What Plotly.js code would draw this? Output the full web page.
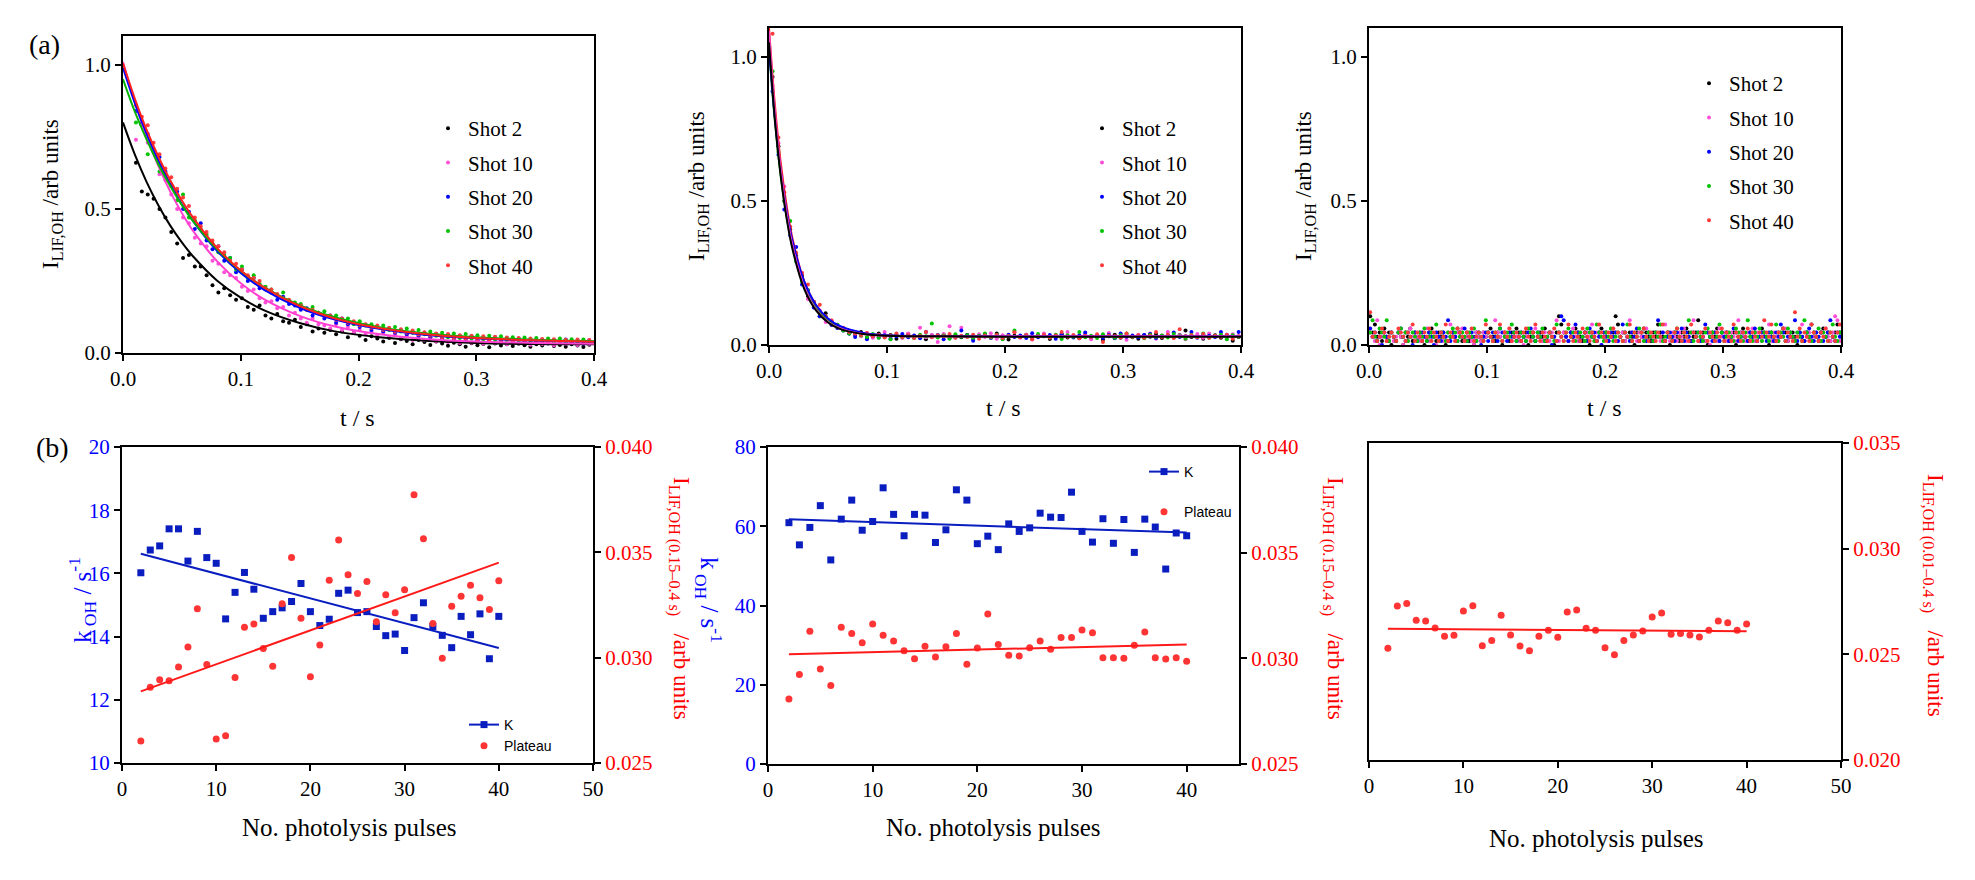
<!DOCTYPE html>
<html>
<head>
<meta charset="utf-8">
<script src="https://cdn.plot.ly/plotly-3.0.1.min.js"></script>
<style>
  body { margin: 0; background: #fff; }
  #fig { width: 1975px; height: 880px; }
</style>
</head>
<body>
<div id="fig"></div>
<script>
// ---------------- data ----------------

const shotNames = ["Shot 2", "Shot 10", "Shot 20", "Shot 30", "Shot 40"];

// (a) left: OH LIF decays, sampled every 0.005 s starting at 0.011 s
const leftT0 = 0.011, leftDt = 0.005;
const leftShot2 = [0.66,0.56,0.55,0.535,0.50,0.47,0.42,0.38,0.33,0.34,
  0.30,0.30,0.27,0.235,0.21,0.225,0.20,0.185,0.19,0.16,
  0.15,0.165,0.13,0.12,0.135,0.11,0.105,0.115,0.09,0.10,
  0.075,0.085,0.07,0.08,0.065,0.075,0.055,0.07,0.06,0.045,
  0.058,0.05,0.04,0.052,0.035,0.048,0.042,0.03,0.045,0.038,
  0.028,0.04,0.033,0.025,0.036,0.03,0.022,0.034,0.027,0.031,
  0.02,0.033,0.026,0.03,0.024,0.032,0.027,0.022,0.03,0.026,
  0.034,0.024,0.028,0.022,0.03,0.026,0.021,0.029];
const leftShot10 = [0.74,0.79,0.73,0.70,0.62,0.60,0.55,0.50,0.47,0.45,
  0.40,0.38,0.37,0.32,0.31,0.28,0.27,0.26,0.23,0.215,
  0.22,0.19,0.175,0.18,0.155,0.16,0.13,0.14,0.12,0.105,
  0.12,0.10,0.095,0.085,0.10,0.08,0.09,0.07,0.08,0.065,
  0.075,0.06,0.07,0.055,0.065,0.05,0.06,0.045,0.058,0.044,
  0.052,0.04,0.05,0.038,0.047,0.035,0.046,0.036,0.043,0.032,
  0.044,0.035,0.04,0.03,0.042,0.033,0.038,0.029,0.04,0.031,
  0.037,0.027,0.039,0.032,0.036,0.028,0.038,0.031];
const leftShot20 = [0.84,0.80,0.76,0.70,0.68,0.63,0.58,0.56,0.50,0.49,
  0.43,0.45,0.39,0.36,0.37,0.32,0.33,0.28,0.29,0.25,
  0.26,0.225,0.22,0.21,0.185,0.195,0.17,0.165,0.15,0.155,
  0.13,0.14,0.12,0.13,0.105,0.12,0.10,0.105,0.09,0.098,
  0.08,0.09,0.075,0.085,0.07,0.08,0.065,0.072,0.06,0.07,
  0.055,0.066,0.05,0.063,0.05,0.06,0.045,0.058,0.044,0.054,
  0.042,0.055,0.04,0.052,0.038,0.05,0.036,0.048,0.037,0.046,
  0.033,0.045,0.035,0.047,0.034,0.043,0.032,0.044];
const leftShot30 = [0.80,0.79,0.69,0.70,0.63,0.62,0.58,0.53,0.55,0.47,
  0.46,0.43,0.41,0.38,0.35,0.34,0.33,0.29,0.30,0.26,
  0.27,0.24,0.23,0.22,0.20,0.21,0.18,0.175,0.17,0.15,
  0.16,0.14,0.145,0.125,0.13,0.115,0.12,0.10,0.11,0.095,
  0.10,0.09,0.095,0.08,0.09,0.075,0.085,0.07,0.08,0.065,
  0.075,0.06,0.07,0.055,0.068,0.052,0.066,0.05,0.062,0.048,
  0.06,0.046,0.058,0.045,0.055,0.042,0.054,0.04,0.052,0.038,
  0.05,0.037,0.05,0.036,0.048,0.035,0.047,0.036];
const leftShot40 = [0.86,0.82,0.79,0.73,0.69,0.64,0.61,0.57,0.54,0.51,
  0.47,0.44,0.42,0.39,0.37,0.35,0.32,0.31,0.29,0.27,
  0.26,0.25,0.225,0.22,0.205,0.19,0.185,0.17,0.165,0.15,
  0.15,0.14,0.13,0.13,0.115,0.12,0.105,0.11,0.095,0.10,
  0.088,0.095,0.08,0.088,0.074,0.082,0.07,0.078,0.064,0.072,
  0.06,0.068,0.055,0.066,0.052,0.062,0.05,0.06,0.047,0.058,
  0.045,0.056,0.043,0.054,0.042,0.052,0.04,0.05,0.039,0.049,
  0.036,0.048,0.037,0.046,0.035,0.047,0.034,0.045];

// fitted curves, read at these times
const leftFitT = [0,0.01,0.02,0.03,0.04,0.05,0.06,0.08,0.10,0.12,0.15,0.18,0.22,0.26,0.30,0.35,0.40];
const leftFit2  = [0.800,0.689,0.594,0.513,0.443,0.384,0.333,0.251,0.192,0.148,0.104,0.075,0.054,0.042,0.035,0.031,0.030];
const leftFit10 = [1.010,0.871,0.751,0.649,0.561,0.486,0.421,0.318,0.242,0.186,0.129,0.092,0.064,0.048,0.040,0.035,0.032];
const leftFit20 = [0.990,0.868,0.761,0.668,0.587,0.516,0.455,0.354,0.278,0.219,0.157,0.116,0.082,0.062,0.051,0.043,0.039];
const leftFit30 = [0.950,0.838,0.741,0.655,0.580,0.513,0.455,0.359,0.285,0.228,0.166,0.124,0.088,0.067,0.055,0.046,0.041];
const leftFit40 = [1.005,0.883,0.775,0.682,0.600,0.529,0.467,0.364,0.286,0.227,0.163,0.120,0.085,0.064,0.052,0.044,0.039];

// (a) middle: sampled every 0.005 s starting at 0.003 s
const midT0 = 0.003, midDt = 0.005;
const midShot2 = [0.93,0.69,0.50,0.40,0.31,0.24,0.17,0.15,0.10,0.11,
  0.07,0.06,0.055,0.04,0.035,0.045,0.025,0.03,0.04,0.028,
  0.035,0.022,0.03,0.038,0.026,0.032,0.02,0.034,0.029,0.036,
  0.024,0.031,0.027,0.035,0.022,0.03,0.033,0.025,0.04,0.028,
  0.019,0.032,0.027,0.036,0.024,0.03,0.034,0.021,0.029,0.037,
  0.026,0.031,0.023,0.035,0.028,0.032,0.018,0.03,0.036,0.025,
  0.033,0.027,0.022,0.034,0.029,0.038,0.024,0.031,0.026,0.035,
  0.05,0.028,0.032,0.022,0.03,0.034,0.025,0.031,0.015,0.028];
const midShot10 = [0.90,0.70,0.55,0.39,0.30,0.25,0.16,0.13,0.12,0.08,
  0.085,0.07,0.05,0.045,0.038,0.03,0.042,0.025,0.033,0.045,
  0.028,0.036,0.024,0.04,0.03,0.06,0.027,0.035,0.01,0.038,
  0.065,0.029,0.06,0.033,0.024,0.037,0.028,0.041,0.022,0.034,
  0.03,0.045,0.025,0.036,0.019,0.032,0.04,0.027,0.035,0.023,
  0.045,0.03,0.026,0.038,0.02,0.033,0.029,0.042,0.024,0.035,
  0.018,0.031,0.036,0.027,0.04,0.022,0.033,0.045,0.026,0.034,
  0.02,0.03,0.038,0.025,0.04,0.028,0.035,0.021,0.037,0.03];
const midShot20 = [0.88,0.66,0.47,0.38,0.34,0.21,0.19,0.13,0.10,0.095,
  0.07,0.06,0.05,0.04,0.028,0.035,0.02,0.03,0.026,0.034,
  0.022,0.03,0.038,0.027,0.033,0.023,0.045,0.029,0.035,0.02,
  0.031,0.026,0.05,0.034,0.015,0.03,0.037,0.025,0.032,0.022,
  0.036,0.028,0.033,0.024,0.041,0.027,0.03,0.035,0.022,0.038,
  0.03,0.026,0.034,0.043,0.028,0.032,0.025,0.036,0.023,0.04,
  0.029,0.033,0.027,0.035,0.038,0.024,0.031,0.034,0.043,0.028,
  0.03,0.045,0.025,0.037,0.032,0.028,0.045,0.036,0.03,0.045];
const midShot30 = [0.95,0.67,0.50,0.43,0.29,0.22,0.19,0.14,0.11,0.10,
  0.08,0.07,0.05,0.04,0.045,0.033,0.028,0.038,0.025,0.031,
  0.02,0.035,0.027,0.032,0.024,0.036,0.03,0.075,0.026,0.033,
  0.022,0.037,0.029,0.034,0.025,0.031,0.04,0.027,0.035,0.02,
  0.03,0.05,0.028,0.033,0.024,0.038,0.03,0.026,0.036,0.021,
  0.034,0.029,0.045,0.027,0.032,0.024,0.037,0.03,0.025,0.034,
  0.04,0.028,0.031,0.023,0.036,0.029,0.033,0.026,0.038,0.03,
  0.022,0.035,0.028,0.04,0.025,0.032,0.036,0.02,0.034,0.029];
const midShot40 = [1.08,0.72,0.53,0.41,0.32,0.25,0.21,0.15,0.14,0.10,
  0.085,0.065,0.06,0.045,0.04,0.035,0.042,0.03,0.036,0.026,
  0.033,0.04,0.028,0.035,0.024,0.031,0.045,0.027,0.034,0.03,
  0.038,0.025,0.032,0.028,0.036,0.022,0.033,0.029,0.035,0.024,
  0.031,0.044,0.027,0.034,0.02,0.03,0.036,0.026,0.033,0.045,
  0.029,0.035,0.023,0.031,0.028,0.037,0.01,0.033,0.03,0.026,
  0.04,0.029,0.034,0.025,0.032,0.045,0.028,0.036,0.024,0.055,
  0.03,0.034,0.027,0.038,0.025,0.032,0.029,0.036,0.022,0.03];

const midFitT = [0,0.005,0.01,0.015,0.02,0.03,0.04,0.05,0.06,0.08,0.10,0.15,0.20,0.30,0.40];
const midFit2  = [1.05,0.782,0.584,0.438,0.331,0.193,0.119,0.078,0.056,0.038,0.032,0.030,0.029,0.029,0.029];
const midFit10 = [1.09,0.811,0.606,0.454,0.343,0.200,0.122,0.080,0.058,0.038,0.032,0.030,0.030,0.030,0.030];
const midFit20 = [1.03,0.787,0.603,0.464,0.359,0.219,0.138,0.092,0.066,0.042,0.034,0.031,0.031,0.031,0.031];
const midFit30 = [1.03,0.776,0.586,0.445,0.339,0.202,0.126,0.083,0.060,0.039,0.033,0.030,0.030,0.030,0.030];
const midFit40 = [1.10,0.833,0.631,0.482,0.368,0.220,0.137,0.090,0.064,0.041,0.033,0.030,0.030,0.030,0.030];

// (a) right: digitised baseline only, sampled every 0.002 s starting at 0.001 s
const rightT0 = 0.001, rightDt = 0.002;
const rightShot2 = [.1,.043,.071,.029,.043,.014,.057,.029,.043,0,
  .029,.014,.043,.029,0,.043,.029,.057,.014,.043,
  .029,.043,.014,0,.029,.043,.057,.029,.014,.043,
  .029,.043,0,.014,.029,.043,.029,.057,.043,.014,
  .029,.043,.014,.029,0,.043,.029,.014,.043,.029,
  .043,.057,.029,.014,.043,.029,0,.043,.029,.014,
  .043,.029,.057,.043,.014,.029,.043,0,.029,.043,
  .014,.029,.043,.029,.057,.014,.043,.029,0,.043,
  .1,.071,.043,.029,.014,.043,.029,.057,.043,.029,
  .014,.043,.029,0,.043,.029,.014,.043,.057,.029,
  .043,.014,.029,.043,.1,.071,.029,.043,.014,.029,
  .043,.029,0,.043,.014,.029,.057,.043,.029,.014,
  .043,.029,.071,.043,.029,.014,.043,0,.029,.043,
  .029,.014,.043,.029,.057,.043,.014,.029,.043,.086,
  .029,.043,.014,0,.029,.043,.029,.057,.014,.043,
  .029,.043,.014,.029,.043,0,.029,.043,.057,.029,
  .014,.043,.029,.043,.014,.029,.057,.043,.029,0,
  .043,.029,.014,.043,.029,.057,.043,.014,.029,.043,
  .029,0,.043,.029,.014,.043,.029,.071,.043,.029,
  .014,.043,.057,.029,.043,.014,.029,.043,.071,.043];
const rightShot10 = [.043,.029,.014,.086,0,.029,.043,.014,.029,.043,
  .014,.029,.043,.029,0,.043,.014,.057,.029,.043,
  .029,.014,.043,.029,.057,.014,.043,.029,0,.029,
  .043,.014,.029,.043,.071,.029,.014,.043,.029,.057,
  .014,.029,.043,.014,0,.043,.029,.014,.043,.029,
  .043,.029,.014,.086,.043,.029,.014,.043,.029,.057,
  .014,.043,.029,.014,.043,0,.029,.043,.014,.029,
  .057,.043,.029,.014,.043,.029,.014,.043,.029,.086,
  .014,.029,.043,.029,.014,.043,.057,.029,.014,.043,
  .029,.014,.043,.029,.071,.014,.043,.029,0,.029,
  .043,.014,.029,.057,.043,.014,.029,.043,.014,.029,
  .086,.043,.029,.014,.043,.029,.014,.057,.043,.029,
  .014,.043,.029,.014,.043,.071,.029,.014,.043,.029,
  .014,.043,.029,.057,.014,.029,.043,.086,.029,.014,
  .043,.029,.014,.043,0,.029,.043,.014,.057,.029,
  .043,.014,.029,.043,.029,.014,.086,.043,.029,.014,
  .043,.029,.057,.014,.043,.029,.014,.043,.029,.071,
  .014,.043,.029,.014,.043,.029,.057,.014,.043,.029,
  .014,.043,.029,.071,.014,.029,.043,.014,.029,.043,
  .029,.014,.043,.057,.029,.014,.043,.1,.086,.014];
const rightShot20 = [.057,.029,.043,.014,.029,0,.043,.029,.014,.043,
  .029,.014,.043,.057,.029,.014,.043,.029,0,.043,
  .014,.029,.043,.029,.014,.043,.029,0,.043,.029,
  .014,.043,.029,.086,.014,.043,.029,.014,.043,.029,
  .057,.014,.029,.043,.029,.014,.043,0,.029,.043,
  .014,.029,.043,.029,.014,.057,.043,.029,.014,.043,
  .029,.043,.014,.029,.043,.029,.014,.043,.057,.029,
  .014,.043,.029,.043,.014,.029,.043,0,.029,.014,
  .043,.1,.086,.029,.014,.043,.029,.071,.043,.014,
  .029,.043,.014,.057,.029,.043,.014,.029,0,.043,
  .029,.014,.043,.029,.043,.014,.029,.071,.043,.029,
  .014,.043,.029,.057,.014,.043,.029,.014,.043,.029,
  .014,.043,.086,.029,.043,.014,.029,.043,.029,.014,
  .043,.029,.057,.014,.043,.029,.014,.043,.029,.043,
  .014,.029,.071,.043,.029,.014,.043,.029,.014,.043,
  .029,.043,.014,.029,.057,.043,.014,.029,.043,.029,
  .014,.043,.029,.057,.014,.029,.043,.029,.014,.043,
  .029,.014,.043,.029,.071,.043,.014,.029,.043,.029,
  .086,.014,.043,.029,.014,.043,.057,.029,.014,.043,
  .029,.043,.014,.029,.043,.086,.029,.014,.043,.029];
const rightShot30 = [.043,.086,.029,.014,.057,.043,.029,.086,.014,.043,
  .029,.014,.043,.057,.029,.043,.014,.029,.043,.029,
  .014,.043,.029,.057,.014,.029,.043,.029,.071,.014,
  .043,.029,.014,.043,.029,.057,.043,.014,.029,.043,
  .029,.014,.043,.029,.057,.014,.043,.029,.014,.086,
  .043,.029,.014,.043,.029,.057,.014,.029,.043,.029,
  .071,.043,.014,.029,.043,.029,.014,.057,.043,.029,
  .014,.043,.029,.057,.014,.029,.043,.029,.014,.071,
  .043,.029,.014,.043,.057,.029,.043,.014,.029,.043,
  .029,.014,.057,.043,.029,.014,.071,.043,.029,.014,
  .043,.029,.057,.014,.029,.043,.029,.014,.043,.071,
  .029,.014,.043,.029,.057,.043,.014,.029,.043,.029,
  .014,.043,.029,.071,.014,.029,.043,.029,.014,.043,
  .057,.029,.014,.043,.029,.086,.043,.014,.029,.043,
  .029,.014,.043,.057,.029,.043,.014,.029,.071,.043,
  .014,.029,.043,.029,.014,.057,.043,.029,.014,.043,
  .086,.029,.014,.043,.029,.057,.014,.043,.029,.014,
  .043,.029,.071,.014,.043,.029,.014,.057,.043,.029,
  .014,.043,.029,.014,.086,.043,.029,.014,.043,.029,
  .057,.014,.043,.029,.014,.043,.071,.029,.014,.043];
const rightShot40 = [.114,.029,.043,.014,.029,.057,.043,.014,.029,.043,
  .029,.014,.057,.043,.029,.014,.043,.029,.071,.014,
  .043,.029,.014,.043,.029,.057,.014,.043,.029,.014,
  .043,.029,.071,.014,.043,.029,.014,.057,.043,.029,
  .014,.043,.029,.057,.014,.029,.043,.029,.014,.071,
  .043,.029,.014,.043,.029,.071,.014,.043,.029,.057,
  .014,.029,.043,.029,.014,.043,.057,.029,.014,.043,
  .071,.029,.014,.043,.029,.014,.043,.029,.057,.014,
  .043,.029,.014,.043,.071,.029,.014,.043,.029,.014,
  .057,.043,.029,.014,.043,.029,.014,.071,.043,.029,
  .014,.043,.029,.057,.014,.043,.029,.014,.043,.029,
  .071,.014,.043,.029,.014,.043,.057,.029,.014,.043,
  .029,.014,.043,.029,.071,.014,.043,.029,.014,.043,
  .057,.029,.014,.043,.029,.014,.071,.043,.029,.014,
  .043,.029,.057,.014,.043,.029,.014,.043,.029,.057,
  .014,.043,.029,.014,.071,.043,.029,.014,.043,.029,
  .057,.014,.043,.029,.014,.043,.029,.086,.043,.029,
  .071,.029,.014,.043,.029,.057,.014,.043,.029,.014,
  .114,.029,.057,.014,.043,.029,.014,.071,.043,.029,
  .014,.043,.029,.057,.014,.043,.029,.014,.043,.071];

// (b) fitted rate constants and plateaus versus shot number
const pulses = [2,3,4,5,6,7,8,9,10,11,12,13,14,15,16,17,18,19,20,21,
  22,23,24,25,26,27,28,29,30,31,32,33,34,35,36,37,38,39,40];
const pulsesFit = [2, 40];

const kLeft = [16.02,16.74,16.87,17.41,17.41,16.39,17.33,16.50,16.32,14.56,
  15.40,16.03,15.50,14.58,14.79,14.91,15.11,15.68,14.79,14.35,
  14.55,15.37,15.47,14.76,14.79,14.32,14.03,14.08,13.56,14.60,
  15.07,14.32,14.04,13.65,14.64,14.06,14.72,13.30,14.64];
const plateauLeft = [0.02605,0.02859,0.02895,0.02890,0.02956,0.03051,0.03232,0.02967,0.02614,0.02629,
  0.02906,0.03144,0.03160,0.03044,0.02959,0.03256,0.03475,0.03187,0.02910,0.03060,
  0.03368,0.03559,0.03394,0.03305,0.03362,0.03171,0.03299,0.03213,0.03322,0.03773,
  0.03565,0.03162,0.02997,0.03244,0.03292,0.03344,0.03284,0.03229,0.03365];
const kLeftFit = [16.62, 13.64];
const plateauLeftFit = [0.02840, 0.03451];

const kMid = [60.9,55.3,59.7,65.2,51.5,61.8,66.6,59.0,61.2,69.7,
  63.0,57.6,63.0,62.8,55.9,59.1,69.2,66.6,55.6,57.5,
  54.1,60.6,58.7,59.6,63.3,62.3,62.2,68.6,58.7,56.0,
  61.9,55.7,61.7,53.4,61.8,59.8,49.2,58.3,57.6];
const plateauMid = [0.02808,0.02924,0.03128,0.02950,0.02871,0.03147,0.03118,0.03074,0.03162,0.03109,
  0.03082,0.03036,0.02998,0.03057,0.03006,0.03055,0.03118,0.02972,0.03049,0.03210,
  0.03066,0.03014,0.03011,0.03050,0.03082,0.03043,0.03098,0.03098,0.03134,0.03121,
  0.03003,0.03003,0.03000,0.03062,0.03125,0.03003,0.02997,0.03003,0.02986];
const kMidFit = [61.75, 58.4];
const plateauMidFit = [0.03019, 0.03066];

const plateauRight = [0.02529,0.02729,0.02741,0.02661,0.02658,0.02625,0.02585,0.02590,0.02705,0.02730,
  0.02541,0.02566,0.02685,0.02592,0.02539,0.02517,0.02585,0.02614,0.02581,0.02700,
  0.02710,0.02623,0.02614,0.02531,0.02498,0.02565,0.02592,0.02610,0.02677,0.02696,
  0.02595,0.02598,0.02592,0.02582,0.02614,0.02658,0.02650,0.02614,0.02644];
const plateauRightFit = [0.02621, 0.02609];

// ---------------- styling ----------------
const W = 1975, H = 880;
const px = x => x / W;          // pixel column -> paper
const py = y => 1 - y / H;      // pixel row -> paper
const serif = "Liberation Serif, Times New Roman, serif";
const sans = "Liberation Sans, Arial, sans-serif";

const dotColors = ["#000000", "#ff4fd8", "#0000ff", "#00c400", "#ff3b3b"];
const fitColors = ["#000000", "#ff40d0", "#0000ff", "#00b400", "#ff2020"];
const kBlue = "#0a1ec0", platRed = "#ff3535";

// one panel of decay traces: dots in the legend, fit curves not
// fitOrder: which fit curve gets drawn first (last one ends up on top)
function decayTraces(series, t0, dt, fitT, fits, fitOrder, xa, ya, legendId) {
  let traces = [];
  series.forEach((s, i) => {
    traces.push({
      type: "scatter", mode: "markers", x0: t0, dx: dt, y: s,
      xaxis: xa, yaxis: ya, name: shotNames[i],
      legend: legendId, legendgroup: legendId + "g" + i,
      marker: { size: 4, color: dotColors[i] },
      hoverinfo: "skip"
    });
  });
  if (fits) {
    fitOrder.forEach(i => {
      traces.push({
        type: "scatter", mode: "lines", x: fitT, y: fits[i],
        xaxis: xa, yaxis: ya, showlegend: false,
        line: { color: fitColors[i], width: 2, shape: "spline" },
        hoverinfo: "skip"
      });
    });
  }
  return traces;
}

// interleave nulls so a lines+markers trace draws only markers but keeps a line in its legend entry
function isolated(arr) {
  let out = [];
  arr.forEach(v => out.push(v, null));
  return out;
}

let data = [];
data = data.concat(decayTraces([leftShot2, leftShot10, leftShot20, leftShot30, leftShot40],
  leftT0, leftDt, leftFitT, [leftFit2, leftFit10, leftFit20, leftFit30, leftFit40], [0, 1, 2, 3, 4], "x", "y", "legend"));
data = data.concat(decayTraces([midShot2, midShot10, midShot20, midShot30, midShot40],
  midT0, midDt, midFitT, [midFit2, midFit10, midFit20, midFit30, midFit40], [4, 3, 2, 1, 0], "x2", "y2", "legend2"));
data = data.concat(decayTraces([rightShot2, rightShot10, rightShot20, rightShot30, rightShot40],
  rightT0, rightDt, null, null, null, "x3", "y3", "legend3"));

// (b) left
data.push({
  type: "scatter", mode: "lines+markers", x: isolated(pulses), y: isolated(kLeft),
  xaxis: "x4", yaxis: "y4", name: "K", legend: "legend4", legendgroup: "bK",
  marker: { symbol: "square", size: 7, color: kBlue }, line: { color: kBlue, width: 2 },
  connectgaps: false, hoverinfo: "skip"
});
data.push({
  type: "scatter", mode: "lines", x: pulsesFit, y: kLeftFit, xaxis: "x4", yaxis: "y4",
  showlegend: false, line: { color: kBlue, width: 2 }, hoverinfo: "skip"
});
data.push({
  type: "scatter", mode: "markers", x: pulses, y: plateauLeft, xaxis: "x4", yaxis: "y5",
  name: "Plateau", legend: "legend4", legendgroup: "bP",
  marker: { symbol: "circle", size: 7, color: platRed }, hoverinfo: "skip"
});
data.push({
  type: "scatter", mode: "lines", x: pulsesFit, y: plateauLeftFit, xaxis: "x4", yaxis: "y5",
  showlegend: false, line: { color: "#ff1a1a", width: 2 }, hoverinfo: "skip"
});

// (b) middle
data.push({
  type: "scatter", mode: "lines+markers", x: isolated(pulses), y: isolated(kMid),
  xaxis: "x5", yaxis: "y6", name: "K", legend: "legend5", legendgroup: "cK",
  marker: { symbol: "square", size: 7, color: kBlue }, line: { color: kBlue, width: 2 },
  connectgaps: false, hoverinfo: "skip"
});
data.push({
  type: "scatter", mode: "lines", x: pulsesFit, y: kMidFit, xaxis: "x5", yaxis: "y6",
  showlegend: false, line: { color: kBlue, width: 2 }, hoverinfo: "skip"
});
data.push({
  type: "scatter", mode: "markers", x: pulses, y: plateauMid, xaxis: "x5", yaxis: "y7",
  name: "Plateau", legend: "legend5", legendgroup: "cP",
  marker: { symbol: "circle", size: 7, color: platRed }, hoverinfo: "skip"
});
data.push({
  type: "scatter", mode: "lines", x: pulsesFit, y: plateauMidFit, xaxis: "x5", yaxis: "y7",
  showlegend: false, line: { color: "#ff1a1a", width: 2 }, hoverinfo: "skip"
});

// (b) right
data.push({
  type: "scatter", mode: "markers", x: pulses, y: plateauRight, xaxis: "x6", yaxis: "y8",
  showlegend: false, marker: { symbol: "circle", size: 7, color: platRed }, hoverinfo: "skip"
});
data.push({
  type: "scatter", mode: "lines", x: pulsesFit, y: plateauRightFit, xaxis: "x6", yaxis: "y8",
  showlegend: false, line: { color: "#ff1a1a", width: 2 }, hoverinfo: "skip"
});

// ---------------- layout ----------------
function ax(extra, color) {
  return Object.assign({
    showline: true, linewidth: 2, linecolor: "#000",
    ticks: "outside", ticklen: 6, tickwidth: 2, tickcolor: "#000",
    showgrid: false, zeroline: false, fixedrange: true,
    tickfont: { family: serif, size: 21, color: color || "#000" }
  }, extra);
}

const blue = "#0000ff", red = "#ff0000";

function note(text, x, y, size, color, angle) {
  return {
    text: text, xref: "paper", yref: "paper", x: px(x), y: py(y),
    xanchor: "center", yanchor: "middle", showarrow: false,
    textangle: angle || 0, font: { family: serif, size: size, color: color || "#000" }
  };
}

function legendAt(x, y, font, gap) {
  return {
    x: px(x), y: py(y), xanchor: "left", yanchor: "top",
    bgcolor: "rgba(0,0,0,0)", borderwidth: 0,
    traceorder: "grouped", tracegroupgap: gap, font: font
  };
}

const iTitle = "I<sub>LIF,OH</sub> /arb units";
const kTitle = "k<sub> OH</sub> / s<sup>-1</sup>";
const plat15 = "I<sub>LIF,OH (0.15\u20130.4 s)</sub>\u00a0\u00a0\u00a0/arb units";
const plat01 = "I<sub>LIF,OH (0.01\u20130.4 s)</sub>\u00a0\u00a0\u00a0/arb units";

const layout = {
  width: W, height: H,
  margin: { l: 0, r: 0, t: 0, b: 0 },
  paper_bgcolor: "#fff", plot_bgcolor: "#fff",
  showlegend: true,

  xaxis:  ax({ domain: [px(123), px(594)], range: [0, 0.4], dtick: 0.1, tickformat: ".1f", anchor: "y", mirror: true }),
  yaxis:  ax({ domain: [py(353), py(36)], range: [0, 1.1], tickvals: [0, 0.5, 1], tickformat: ".1f", anchor: "x", mirror: true }),
  xaxis2: ax({ domain: [px(769), px(1241)], range: [0, 0.4], dtick: 0.1, tickformat: ".1f", anchor: "y2", mirror: true }),
  yaxis2: ax({ domain: [py(345), py(28)], range: [0, 1.1], tickvals: [0, 0.5, 1], tickformat: ".1f", anchor: "x2", mirror: true }),
  xaxis3: ax({ domain: [px(1369), px(1841)], range: [0, 0.4], dtick: 0.1, tickformat: ".1f", anchor: "y3", mirror: true }),
  yaxis3: ax({ domain: [py(345), py(28)], range: [0, 1.1], tickvals: [0, 0.5, 1], tickformat: ".1f", anchor: "x3", mirror: true }),

  xaxis4: ax({ domain: [px(122), px(593)], range: [0, 50], dtick: 10, anchor: "y4", mirror: true }),
  yaxis4: ax({ domain: [py(763), py(447)], range: [10, 20], dtick: 2, anchor: "x4" }, blue),
  yaxis5: ax({ overlaying: "y4", side: "right", anchor: "x4", range: [0.025, 0.04], dtick: 0.005, tickformat: ".3f" }, red),

  xaxis5: ax({ domain: [px(768), px(1239)], range: [0, 45], tickvals: [0, 10, 20, 30, 40], anchor: "y6", mirror: true }),
  yaxis6: ax({ domain: [py(764), py(447)], range: [0, 80], dtick: 20, anchor: "x5" }, blue),
  yaxis7: ax({ overlaying: "y6", side: "right", anchor: "x5", range: [0.025, 0.04], dtick: 0.005, tickformat: ".3f" }, red),

  xaxis6: ax({ domain: [px(1369), px(1841)], range: [0, 50], dtick: 10, anchor: "y8", mirror: true }),
  yaxis8: ax({ domain: [py(760), py(443)], side: "right", anchor: "x6", mirror: true, range: [0.02, 0.035], dtick: 0.005, tickformat: ".3f" }, red),

  legend:  legendAt(428, 108, { family: serif, size: 21, color: "#000" }, 4),
  legend2: legendAt(1082, 108, { family: serif, size: 21, color: "#000" }, 4),
  legend3: legendAt(1689, 63, { family: serif, size: 21, color: "#000" }, 4),
  legend4: legendAt(464, 709, { family: sans, size: 14, color: "#000" }, 0),
  legend5: legendAt(1144, 456, { family: sans, size: 14, color: "#000" }, 19),

  annotations: [
    note("(a)", 44, 44, 28),
    note("(b)", 52, 447, 28),

    note(iTitle, 52, 194, 23, "#000", -90),
    note(iTitle, 698, 186, 23, "#000", -90),
    note(iTitle, 1305, 186, 23, "#000", -90),
    note("t / s", 357, 418, 24),
    note("t / s", 1003, 408, 24),
    note("t / s", 1604, 408, 24),

    note(kTitle, 82, 600, 25, blue, -90),
    note(plat15, 680, 598, 23, red, 90),
    note(kTitle, 709, 600, 25, blue, 90),
    note(plat15, 1334, 598, 23, red, 90),
    note(plat01, 1934, 595, 23, red, 90),
    note("No. photolysis pulses", 349, 827, 25),
    note("No. photolysis pulses", 993, 827, 25),
    note("No. photolysis pulses", 1596, 838, 25)
  ]
};

Plotly.newPlot("fig", data, layout, { staticPlot: true, displayModeBar: false });
</script>
</body>
</html>
